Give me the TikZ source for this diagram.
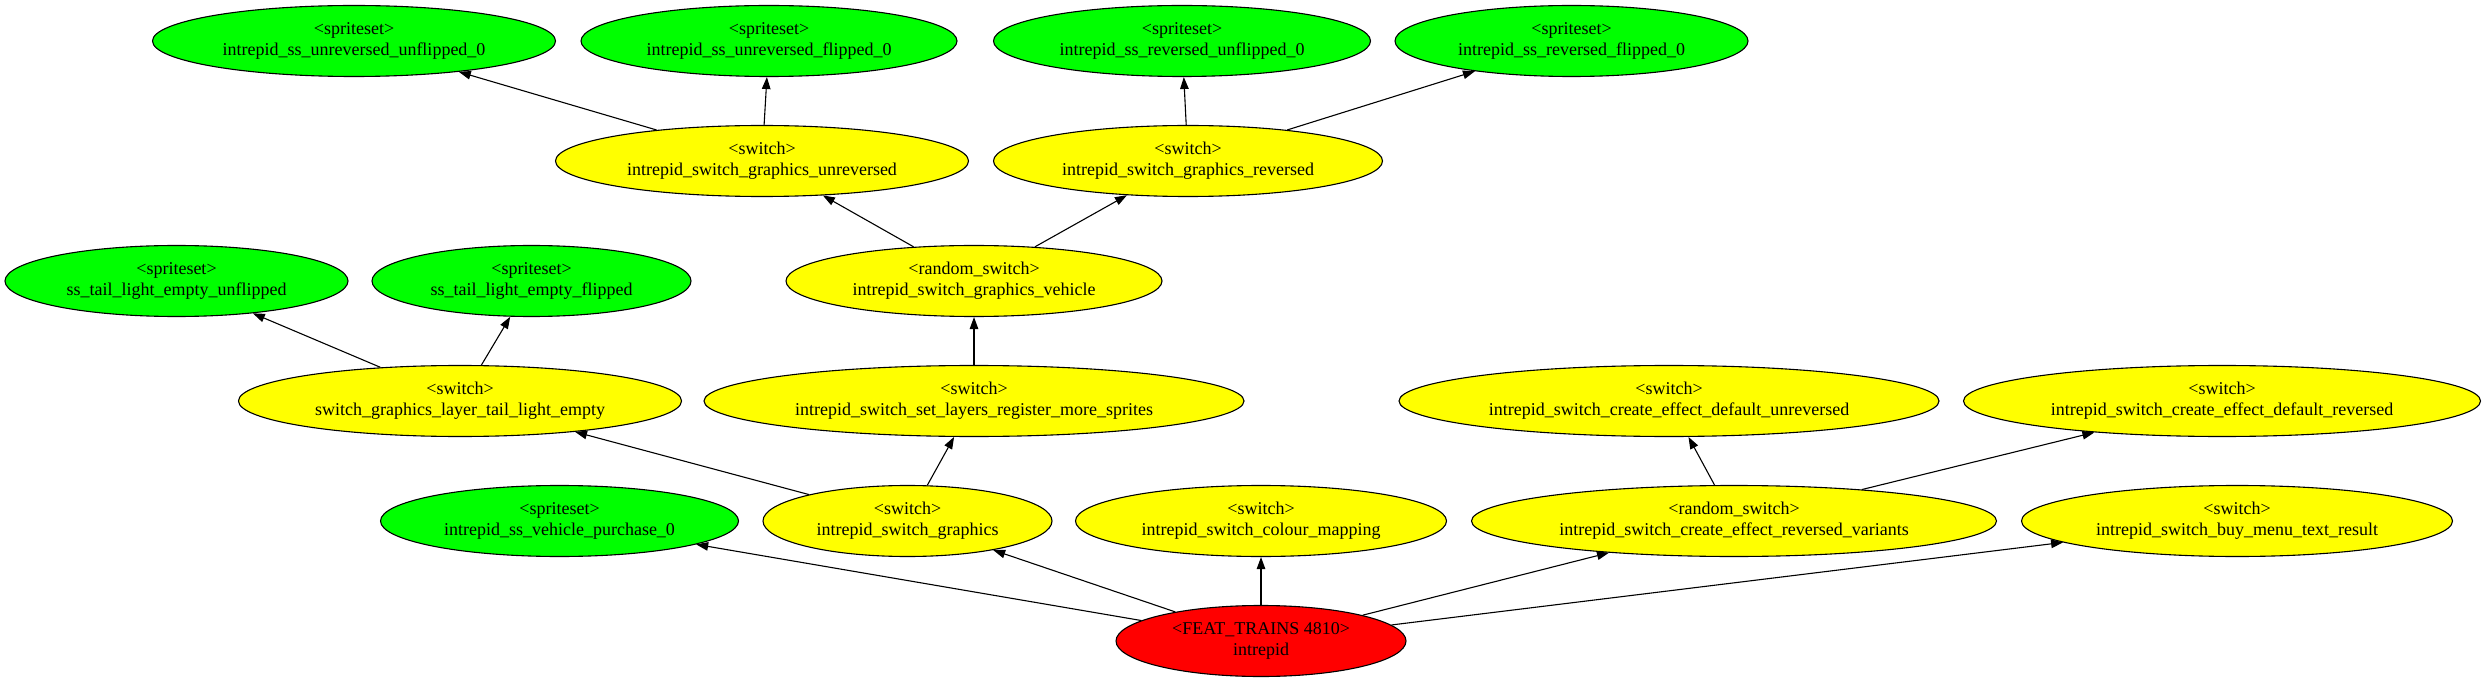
\documentclass[tikz,border=0pt]{standalone}
\usepackage{fontspec}
\setmainfont{Liberation Serif}[Ligatures = NoCommon]
\usetikzlibrary{arrows.meta, shapes.geometric}

\definecolor{gvgreen}{RGB}{0,255,0}
\definecolor{gvyellow}{RGB}{255,255,0}
\definecolor{gvred}{RGB}{255,0,0}

\tikzset{
    gvnode/.style = {ellipse, draw = black, line width = 1.1pt, minimum height = 71pt,
        inner sep = 0pt, align = center, font = \fontsize{18}{21}\selectfont},
    spriteset/.style = {gvnode, fill = gvgreen},
    switchnode/.style = {gvnode, fill = gvyellow},
    rootnode/.style = {gvnode, fill = gvred},
    link/.style = {draw = black, line width = 1.1pt, -{Triangle[length = 12pt, width = 8.5pt]}}
}

\begin{document}
\begin{tikzpicture}[x = 1pt, y = 1pt]

        % Fixing the size of the page.
        \useasboundingbox (0, 0) rectangle (2486, 681);

        % Spritesets at the top.
        \node[spriteset, minimum width = 403pt] (ssUU) at (354.0, 640) {<spriteset>\\intrepid\_ss\_unreversed\_unflipped\_0};
        \node[spriteset, minimum width = 376pt] (ssUF) at (769.0, 640) {<spriteset>\\intrepid\_ss\_unreversed\_flipped\_0};
        \node[spriteset, minimum width = 377pt] (ssRU) at (1182.0, 640) {<spriteset>\\intrepid\_ss\_reversed\_unflipped\_0};
        \node[spriteset, minimum width = 353pt] (ssRF) at (1571.5, 640) {<spriteset>\\intrepid\_ss\_reversed\_flipped\_0};

        % Graphics switches.
        \node[switchnode, minimum width = 413pt] (swGU) at (762.0, 520) {<switch>\\intrepid\_switch\_graphics\_unreversed};
        \node[switchnode, minimum width = 389pt] (swGR) at (1188.0, 520) {<switch>\\intrepid\_switch\_graphics\_reversed};

        % Tail light spritesets and the vehicle random switch.
        \node[spriteset, minimum width = 343pt] (ssTU) at (176.5, 400) {<spriteset>\\ss\_tail\_light\_empty\_unflipped};
        \node[spriteset, minimum width = 319pt] (ssTF) at (531.5, 400) {<spriteset>\\ss\_tail\_light\_empty\_flipped};
        \node[switchnode, minimum width = 376pt] (rsGV) at (974.0, 400) {<random\_switch>\\intrepid\_switch\_graphics\_vehicle};

        % Layer and effect switches.
        \node[switchnode, minimum width = 443pt] (swGL) at (460.0, 280) {<switch>\\switch\_graphics\_layer\_tail\_light\_empty};
        \node[switchnode, minimum width = 540pt] (swSL) at (974.0, 280) {<switch>\\intrepid\_switch\_set\_layers\_register\_more\_sprites};
        \node[switchnode, minimum width = 540pt] (swCU) at (1669.0, 280) {<switch>\\intrepid\_switch\_create\_effect\_default\_unreversed};
        \node[switchnode, minimum width = 517pt] (swCR) at (2222.0, 280) {<switch>\\intrepid\_switch\_create\_effect\_default\_reversed};

        % Direct children of the feature.
        \node[spriteset, minimum width = 358pt] (ssVP) at (559.5, 160) {<spriteset>\\intrepid\_ss\_vehicle\_purchase\_0};
        \node[switchnode, minimum width = 289pt] (swG) at (907.5, 160) {<switch>\\intrepid\_switch\_graphics};
        \node[switchnode, minimum width = 371pt] (swCM) at (1261.0, 160) {<switch>\\intrepid\_switch\_colour\_mapping};
        \node[switchnode, minimum width = 525pt] (rsCR) at (1734.0, 160) {<random\_switch>\\intrepid\_switch\_create\_effect\_reversed\_variants};
        \node[switchnode, minimum width = 431pt] (swBM) at (2237.0, 160) {<switch>\\intrepid\_switch\_buy\_menu\_text\_result};

        % The feature itself.
        \node[rootnode, minimum width = 290pt] (feat) at (1261.0, 40) {<FEAT\_TRAINS 4810>\\intrepid};

        % Edges from the feature.
        \draw[link] (feat) to (ssVP);
        \draw[link] (feat) to (swG);
        \draw[link] (feat) to (swCM);
        \draw[link] (feat) to (rsCR);
        \draw[link] (feat) to (swBM);

        % Edges of the graphics chain.
        \draw[link] (swG) to (swGL);
        \draw[link] (swG) to (swSL);
        \draw[link] (swGL) to (ssTU);
        \draw[link] (swGL) to (ssTF);
        \draw[link] (swSL) to (rsGV);
        \draw[link] (rsGV) to (swGU);
        \draw[link] (rsGV) to (swGR);
        \draw[link] (swGU) to (ssUU);
        \draw[link] (swGU) to (ssUF);
        \draw[link] (swGR) to (ssRU);
        \draw[link] (swGR) to (ssRF);

        % Edges of the effect switches.
        \draw[link] (rsCR) to (swCU);
        \draw[link] (rsCR) to (swCR);
    \end{tikzpicture}
\end{document}
